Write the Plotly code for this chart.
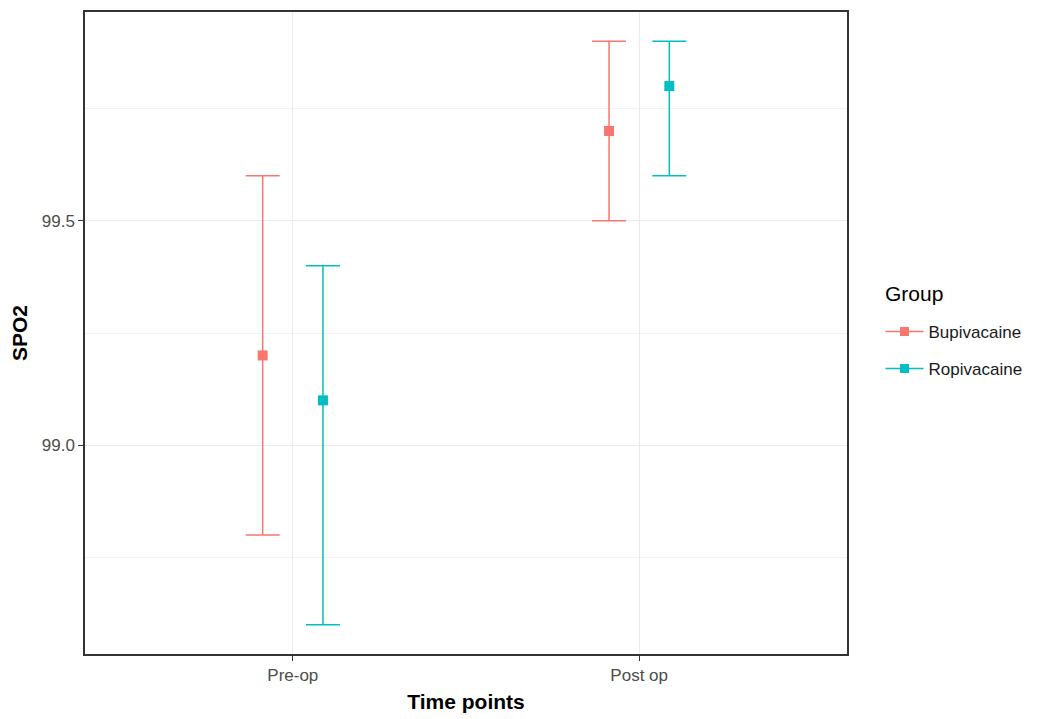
import plotly.graph_objects as go

categories = ["Pre-op", "Post op"]
groups = ["Bupivacaine", "Ropivacaine"]
colors = ["#F8766D", "#00BFC4"]
means = {"Bupivacaine": [99.2, 99.7], "Ropivacaine": [99.1, 99.8]}
upper = {"Bupivacaine": [99.6, 99.9], "Ropivacaine": [99.4, 99.9]}
lower = {"Bupivacaine": [98.8, 99.5], "Ropivacaine": [98.6, 99.6]}
legend_title = "Group"

dodge = [-0.087, 0.087]
cat_pos = [1, 2]

fig = go.Figure()
for g, col, off in zip(groups, colors, dodge):
    m = means[g]
    xs = [p + off for p in cat_pos]
    fig.add_trace(go.Scatter(
        x=xs, y=m, mode="markers", name=g, showlegend=False,
        marker=dict(symbol="square", size=10, color=col),
        error_y=dict(type="data", symmetric=False,
                     array=[u - v for u, v in zip(upper[g], m)],
                     arrayminus=[v - l for v, l in zip(m, lower[g])],
                     color=col, thickness=1.5, width=17),
    ))
    fig.add_trace(go.Scatter(
        x=[None], y=[None], mode="lines+markers", name=g, legendgroup=g,
        marker=dict(symbol="square", size=9, color=col),
        line=dict(color=col, width=1.5),
    ))

fig.update_layout(
    width=1045, height=719,
    margin=dict(l=77, r=206, t=2, b=73),
    paper_bgcolor="white", plot_bgcolor="white",
    font=dict(family="Liberation Sans, Arial, sans-serif", color="#000000"),
    legend=dict(
        x=1.044, xanchor="left", y=0.473, yanchor="middle",
        font=dict(size=17, color="#1A1A1A"),
        itemwidth=38, tracegroupgap=12,
    ),
    showlegend=True,
    annotations=[dict(
        text=legend_title, xref="paper", yref="paper",
        x=1.047, xanchor="left", y=0.561, yanchor="middle",
        showarrow=False, font=dict(size=21, color="#000000"),
    )],
)
fig.update_xaxes(
    range=[0.4, 2.6], tickmode="array", tickvals=cat_pos, ticktext=categories,
    showgrid=True, gridcolor="#EBEBEB", gridwidth=1,
    zeroline=False, showline=True, linecolor="#333333", linewidth=1.5, mirror=True,
    ticks="outside", ticklen=5, tickcolor="#333333",
    tickfont=dict(size=17, color="#4D4D4D"),
    title=dict(text="<b>Time points</b>", font=dict(size=21, color="#000000"), standoff=10),
)
fig.update_yaxes(
    range=[98.535, 99.965], tickmode="linear", tick0=99.0, dtick=0.5,
    tickformat=".1f",
    showgrid=True, gridcolor="#EBEBEB", gridwidth=1,
    minor=dict(dtick=0.25, tick0=99.0, showgrid=True, gridcolor="#F2F2F2", gridwidth=1),
    zeroline=False, showline=True, linecolor="#333333", linewidth=1.5, mirror=True,
    ticks="outside", ticklen=5, tickcolor="#333333",
    tickfont=dict(size=17, color="#4D4D4D"),
    title=dict(text="<b>SPO2</b>", font=dict(size=21, color="#000000"), standoff=8),
)

fig.write_html("out.html")
